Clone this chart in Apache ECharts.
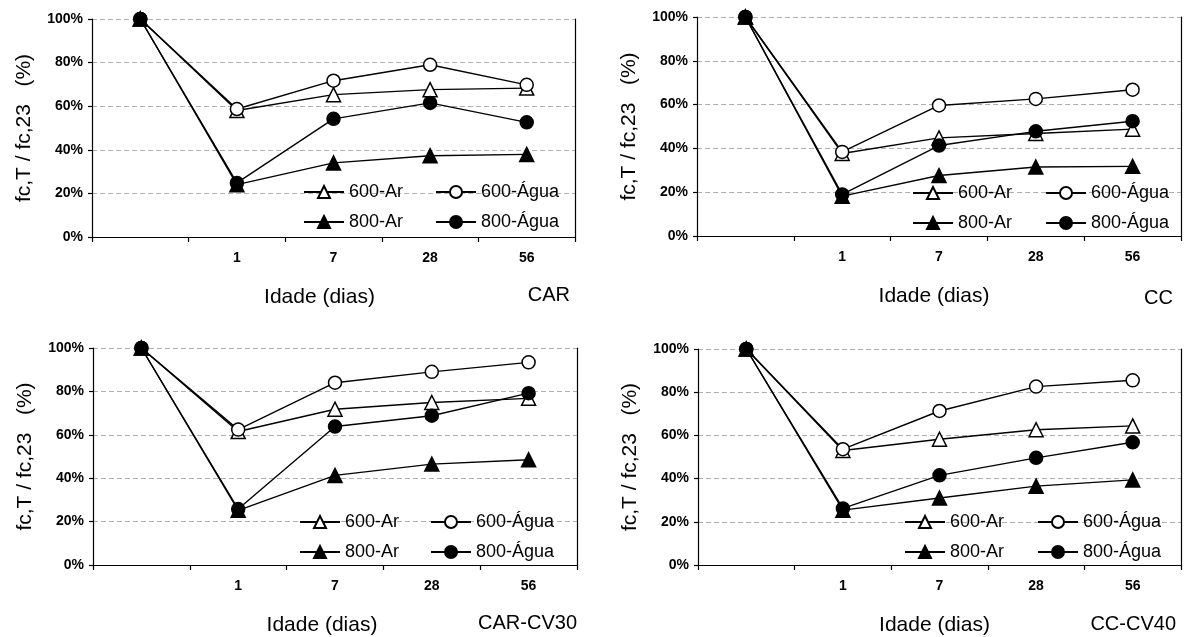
<!DOCTYPE html>
<html>
<head>
<meta charset="utf-8">
<title>fc,T / fc,23</title>
<script src="https://cdn.jsdelivr.net/npm/echarts@6/dist/echarts.min.js"></script>
<style>
  html, body { margin: 0; padding: 0; background: #fff; }
  #main { width: 1188px; height: 637px; }
</style>
</head>
<body>
<div id="main"></div>
<script>
// eixo x: a primeira categoria (referencia 100%) fica sem rotulo
var categories = ['', '1', '7', '28', '56'];
var yTicks = [0, 20, 40, 60, 80, 100];
var seriesNames = ['600-Ar', '600-Água', '800-Ar', '800-Água'];

// CAR
var car600Ar   = [100, 58.0, 65.3, 67.6, 68.3];
var car600Agua = [100, 58.7, 71.7, 79.0, 69.8];
var car800Ar   = [100, 24.0, 34.0, 37.3, 37.9];
var car800Agua = [100, 24.8, 54.2, 61.5, 52.6];

// CC
var cc600Ar   = [100, 37.7, 44.8, 46.8, 48.8];
var cc600Agua = [100, 38.4, 59.6, 62.6, 66.8];
var cc800Ar   = [100, 18.2, 27.6, 31.5, 31.8];
var cc800Agua = [100, 19.0, 41.3, 47.8, 52.4];

// CAR-CV30
var cv30600Ar   = [100, 61.5, 71.8, 74.9, 76.8];
var cv30600Agua = [100, 62.4, 84.0, 89.0, 93.4];
var cv30800Ar   = [100, 25.2, 41.3, 46.5, 48.5];
var cv30800Agua = [100, 25.8, 63.8, 68.8, 79.2];

// CC-CV40
var cv40600Ar   = [100, 53.0, 58.2, 62.6, 64.4];
var cv40600Agua = [100, 53.6, 71.3, 82.6, 85.5];
var cv40800Ar   = [100, 25.4, 31.0, 36.5, 39.4];
var cv40800Agua = [100, 26.2, 41.5, 49.6, 56.8];

var panelData = [
  {title: 'CAR', values: [car600Ar, car600Agua, car800Ar, car800Agua]}
  ,{title: 'CC', values: [cc600Ar, cc600Agua, cc800Ar, cc800Agua]}
  ,{title: 'CAR-CV30', values: [cv30600Ar, cv30600Agua, cv30800Ar, cv30800Agua]}
  ,{title: 'CC-CV40', values: [cv40600Ar, cv40600Agua, cv40800Ar, cv40800Agua]}
];

// posicao de cada painel na pagina
var layout = [
  {left: 92, right: 575, top: 19, bottom: 237, tx: 570, ty: 295, shift: 14, leg: [303, 435], legY: 192}
  ,{left: 697, right: 1181, top: 17, bottom: 236, tx: 1173, ty: 298, shift: 5, leg: [912, 1045], legY: 193}
  ,{left: 93, right: 577, top: 348, bottom: 565, tx: 577, ty: 623, shift: 13, leg: [299, 430], legY: 522}
  ,{left: 698, right: 1181, top: 349, bottom: 566, tx: 1176, ty: 624, shift: 5, leg: [904, 1037], legY: 522}
];

var FONT = 'Liberation Sans, Arial, sans-serif';

// estilo dos marcadores: triangulo/circulo, vazio (600) ou cheio (800)
var marks = [
  {symbol: 'triangle', size: 14, fill: '#fff'}
  ,{symbol: 'circle', size: 13, fill: '#fff'}
  ,{symbol: 'triangle', size: 14, fill: '#000'}
  ,{symbol: 'circle', size: 13, fill: '#000'}
];

var grids = [], xAxes = [], yAxes = [], series = [], legends = [], graphics = [];

panelData.forEach(function(p, i){
  var L = layout[i];
  grids.push({
    left: L.left
    ,top: L.top
    ,width: L.right - L.left
    ,height: L.bottom - L.top
  });

  // eixo inferior com categorias
  xAxes.push({
    type: 'category'
    ,gridIndex: i
    ,data: categories
    ,boundaryGap: true
    ,name: 'Idade (dias)'
    ,nameLocation: 'middle'
    ,nameGap: 50
    ,nameTextStyle: {fontFamily: FONT, fontSize: 21, color: '#000', padding: [0, L.shift * 2, 0, 0]}
    ,axisLine: {lineStyle: {color: '#000', width: 1.2}}
    ,axisTick: {show: true, alignWithLabel: false, interval: 0, length: 5, lineStyle: {color: '#000', width: 1.2}}
    ,axisLabel: {fontFamily: FONT, fontSize: 14, fontWeight: 'bold', color: '#000', margin: 14, interval: 0}
    ,splitLine: {show: false}
  });
  // borda superior da moldura
  xAxes.push({
    type: 'category'
    ,gridIndex: i
    ,position: 'top'
    ,data: categories
    ,z: 5
    ,axisLine: {lineStyle: {color: '#000', width: 1.2}}
    ,axisTick: {show: false}
    ,axisLabel: {show: false}
    ,splitLine: {show: false}
  });

  yAxes.push({
    type: 'value'
    ,gridIndex: i
    ,min: yTicks[0]
    ,max: yTicks[yTicks.length - 1]
    ,interval: yTicks[1] - yTicks[0]
    ,name: 'fc,T / fc,23   (%)'
    ,nameLocation: 'middle'
    ,nameGap: 57
    ,nameTextStyle: {fontFamily: FONT, fontSize: 21, color: '#000'}
    ,axisLine: {show: true, lineStyle: {color: '#000', width: 1.2}}
    ,axisTick: {show: true, length: 4, lineStyle: {color: '#000', width: 1.2}}
    ,axisLabel: {fontFamily: FONT, fontSize: 14, fontWeight: 'bold', color: '#000', margin: 9, formatter: '{value}%'}
    ,splitLine: {show: true, lineStyle: {color: '#b0b0b0', width: 1, type: [5, 3]}}
  });
  // borda direita da moldura
  yAxes.push({
    type: 'value'
    ,gridIndex: i
    ,position: 'right'
    ,min: yTicks[0]
    ,max: yTicks[yTicks.length - 1]
    ,interval: yTicks[1] - yTicks[0]
    ,z: 5
    ,axisLine: {show: true, lineStyle: {color: '#000', width: 1.2}}
    ,axisTick: {show: false}
    ,axisLabel: {show: false}
    ,splitLine: {show: false}
  });

  p.values.forEach(function(vals, k){
    var m = marks[k];
    series.push({
      name: seriesNames[k]
      ,type: 'line'
      ,xAxisIndex: i * 2
      ,yAxisIndex: i * 2
      ,data: vals
      ,symbol: m.symbol
      ,symbolSize: m.size
      ,showAllSymbol: true
      ,lineStyle: {color: '#000', width: 1.4}
      ,itemStyle: {color: m.fill, borderColor: '#000', borderWidth: 1.5}
      ,emphasis: {disabled: true}
      ,z: 2 + k
    });
  });

  // legenda em duas colunas: Ar | Água
  [[seriesNames[0], seriesNames[2]], [seriesNames[1], seriesNames[3]]].forEach(function(names, c){
    legends.push({
      orient: 'vertical'
      ,left: L.leg[c]
      ,top: L.legY - 9
      ,padding: 0
      ,itemGap: 12
      ,itemWidth: 40
      ,itemHeight: 15
      ,selectedMode: false
      ,data: names
      ,textStyle: {fontFamily: FONT, fontSize: 18, lineHeight: 18, color: '#000', padding: [0, 0, 0, 0]}
    });
  });

  graphics.push({
    type: 'text'
    ,x: L.tx
    ,y: L.ty
    ,style: {text: p.title, fontFamily: FONT, fontSize: 20, fill: '#000', align: 'right', verticalAlign: 'middle'}
  });
});

var chart = echarts.init(document.getElementById('main'));
chart.setOption({
  animation: false
  ,backgroundColor: '#fff'
  ,grid: grids
  ,xAxis: xAxes
  ,yAxis: yAxes
  ,legend: legends
  ,series: series
  ,graphic: graphics
});
</script>
</body>
</html>
